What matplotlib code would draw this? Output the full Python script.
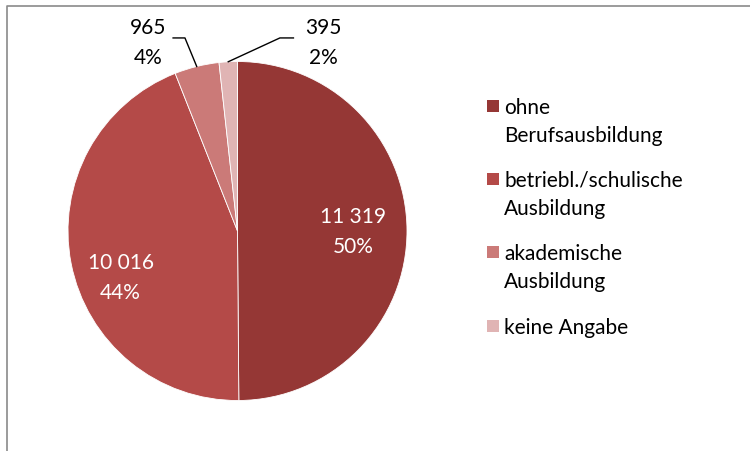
import matplotlib
matplotlib.use('Agg')
import matplotlib.pyplot as plt
from matplotlib.patches import Rectangle
from matplotlib.lines import Line2D
import numpy as np

# data
categories = ['ohne\nBerufsausbildung', 'betriebl./schulische\nAusbildung',
              'akademische\nAusbildung', 'keine Angabe']
values = [11319, 10016, 965, 395]
value_labels = ['11 319', '10 016', '965', '395']
colors = ['#953735', '#B44A48', '#CB7A78', '#E0B4B4']

plt.rcParams['font.family'] = ['Lato', 'DejaVu Sans']
FS = 15

W, H = 750, 452
fig = plt.figure(figsize=(W / 100, H / 100), dpi=100)


def px(x, y):
    # pixel position (from top left) to figure fraction
    return x / W, 1 - y / H


# pie axes: centre (237.5, 232), radius 169.5 px
cx, cy, r = 237.5, 232, 169.5
ax = fig.add_axes([(cx - r) / W, 1 - (cy + r) / H, 2 * r / W, 2 * r / H])
wedges, _ = ax.pie(values, colors=colors, startangle=90, counterclock=False,
                   radius=1, wedgeprops=dict(edgecolor='white', linewidth=0.6))
ax.set_xlim(-1, 1)
ax.set_ylim(-1, 1)
ax.set_aspect('auto')
ax.axis('off')

total = sum(values)
pcts = ['%d%%' % round(v * 100 / total) for v in values]

# inside labels for the two big slices
inside_pos = {0: (0.68, 0.0), 1: (-0.69, -0.27)}
for i, (lx, ly) in inside_pos.items():
    ax.text(lx, ly, value_labels[i] + '\n' + pcts[i], color='white', fontsize=FS,
            ha='center', va='center', linespacing=1.6)

# outside labels with leader lines for the small slices
outside = {2: dict(text=(-0.53, 1.115), elbow=(-0.31, 1.139), end=(-0.38, 1.139)),
           3: dict(text=(0.505, 1.115), elbow=(0.25, 1.139), end=(0.33, 1.139))}
for i, o in outside.items():
    w = wedges[i]
    mid = np.deg2rad((w.theta1 + w.theta2) / 2)
    ex, ey = np.cos(mid), np.sin(mid)
    ax.plot([ex, o['elbow'][0], o['end'][0]], [ey, o['elbow'][1], o['end'][1]],
            color='black', lw=1.0, clip_on=False)
    ax.text(o['text'][0], o['text'][1], value_labels[i] + '\n' + pcts[i],
            color='black', fontsize=FS, ha='center', va='center', linespacing=1.6,
            clip_on=False)

# legend, drawn by hand so the square sits on the first line
leg_y = [107, 180, 253, 327]
for lab, col, y in zip(categories, colors, leg_y):
    x0, y0 = px(487, y + 6)
    fig.add_artist(Rectangle((x0, y0), 12 / W, 12 / H, facecolor=col,
                             edgecolor='none', transform=fig.transFigure))
    tx, ty = px(504, y - 9)
    fig.text(tx, ty, lab, fontsize=FS, color='black', ha='left', va='top',
             linespacing=1.5, transform=fig.transFigure)

# chart frame (top and left edge visible)
fig.add_artist(Line2D([6.5 / W, 6.5 / W, 1], [0, 1 - 7 / H, 1 - 7 / H],
                      color='#8a8a8a', lw=1.2, transform=fig.transFigure))

fig.savefig('out.png', dpi=100)
